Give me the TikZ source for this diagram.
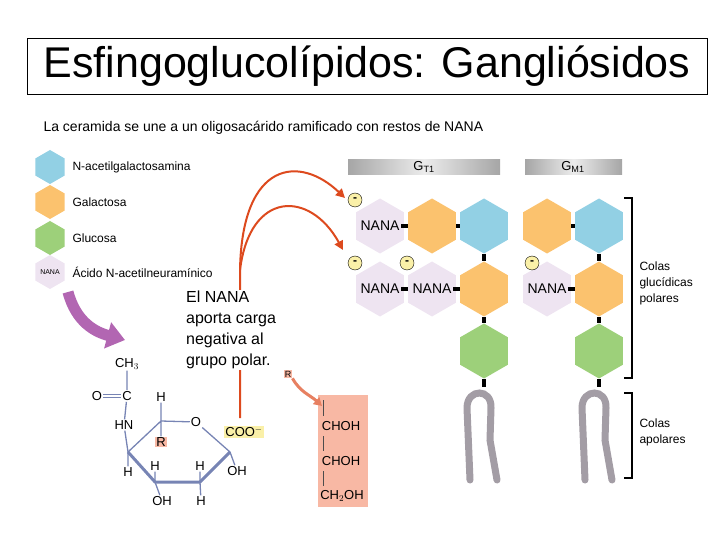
\documentclass[tikz,border=0pt]{standalone}
\usepackage{fontspec}
\setmainfont{Liberation Sans}
\usetikzlibrary{arrows.meta}
\usetikzlibrary{positioning}
\usetikzlibrary{shapes.geometric}
\definecolor{azul}{HTML}{92D0E4}
\definecolor{naranja}{HTML}{FBC26E}
\definecolor{verde}{HTML}{9DD07A}
\definecolor{lila}{HTML}{EEE4F1}
\definecolor{cola}{HTML}{A39DA5}
\definecolor{rojo}{HTML}{DD4A1E}
\definecolor{enlace}{HTML}{7784B4}
\definecolor{salmon}{HTML}{F8B8A4}
\definecolor{amarillo}{HTML}{FAF0A8}
\tikzset{
  hexa/.style = {regular polygon, regular polygon sides=6, shape border rotate=30,
    minimum size=55bp, inner sep=0pt, draw=none},
  hexl/.style = {regular polygon, regular polygon sides=6, shape border rotate=30,
    minimum size=34bp, inner sep=0pt, draw=none},
  nana/.style = {fill=lila, font=\fontsize{14bp}{14bp}\selectfont},
  carga/.style = {circle, draw, fill=amarillo, minimum size=14bp, inner sep=0pt,
    font=\fontsize{12bp}{12bp}\selectfont\bfseries},
  union/.style = {line width=4bp, black},
  colas/.style = {line width=7bp, cola, line cap=round},
  leyenda/.style = {right, font=\fontsize{12bp}{12bp}\selectfont},
  quim/.style = {font=\fontsize{13bp}{13bp}\selectfont, inner sep=1pt},
  barra/.style = {left color=gray!70, right color=gray!70, middle color=gray!15},
}
\begin{document}
\begin{tikzpicture}[x=1bp, y=-1bp]
			\useasboundingbox (0,0) rectangle (720,540);
			%\draw[help lines] (0,0) grid (720,540);
			% titulo
			\node[draw, minimum width=680bp, minimum height=56bp, font=\fontsize{43bp}{43bp}\selectfont] (titulo) at (367,66) {Esfingoglucolípidos: Gangliósidos};
			\node[right, font=\fontsize{14bp}{14bp}\selectfont] (sub) at (40,128) {La ceramida se une a un oligosacárido ramificado con restos de NANA};
			
			% leyenda
			\node[hexl, fill=azul] (l1) at (50,167) {};
			\node[hexl, fill=naranja] (l2) at (50,202) {};
			\node[hexl, fill=verde] (l3) at (50,238) {};
			\node[hexl, fill=lila] (l4) at (50,272) {};
			\node[font=\fontsize{7bp}{7bp}\selectfont] at (l4) {NANA};
			\node[leyenda] at (69,167) {N-acetilgalactosamina};
			\node[leyenda] at (69,202) {Galactosa};
			\node[leyenda] at (69,238) {Glucosa};
			\node[leyenda] at (69,272) {Ácido N-acetilneuramínico};
			
			% cabeceras
			\shade[barra] (348,160) rectangle (500,175);
			\node[font=\fontsize{13bp}{13bp}\selectfont] (gt) at (424,167) {G$_{\mathrm{T1}}$};
			\shade[barra] (525,160) rectangle (622,175);
			\node[font=\fontsize{13bp}{13bp}\selectfont] (gm) at (573,167) {G$_{\mathrm{M1}}$};
			
			% GT1
			\node[hexa, nana] (t1) at (380,226) {};
			\node[font=\fontsize{14bp}{14bp}\selectfont] at (t1) {NANA};
			\node[hexa, fill=naranja] (t2) at (432,226) {};
			\node[hexa, fill=azul] (t3) at (484,226) {};
			\node[hexa, nana] (t4) at (380,289) {};
			\node[font=\fontsize{14bp}{14bp}\selectfont] at (t4) {NANA};
			\node[hexa, nana] (t5) at (432,289) {};
			\node[font=\fontsize{14bp}{14bp}\selectfont] at (t5) {NANA};
			\node[hexa, fill=naranja] (t6) at (484,289) {};
			\node[hexa, fill=verde] (t7) at (484,351) {};
			\draw[union] ([xshift=-3bp]t1.east) -- (t2.west);
			\draw[union] (t2.east) -- (t3.west);
			\draw[union] ([xshift=-3bp]t4.east) -- (t5.west);
			\draw[union] ([xshift=-3bp]t5.east) -- (t6.west);
			\draw[union] (t3.south) -- (t6.north);
			\draw[union] (t6.south) -- (t7.north);
			\draw[union] (t7.south) -- ++(0,8);
			\draw[colas] (470,480) -- (467,408) .. controls (467,388) and (492,388) .. (491,408) -- (490,440) -- (497,480);
			\node[carga] at (355,200) {-};
			\node[carga] at (355,263) {-};
			\node[carga] at (407,263) {-};
			
			% GM1
			\node[hexa, fill=naranja] (m1) at (547,226) {};
			\node[hexa, fill=azul] (m2) at (599,226) {};
			\node[hexa, nana] (m3) at (547,289) {};
			\node[font=\fontsize{14bp}{14bp}\selectfont] at (m3) {NANA};
			\node[hexa, fill=naranja] (m4) at (599,289) {};
			\node[hexa, fill=verde] (m5) at (599,351) {};
			\draw[union] (m1.east) -- (m2.west);
			\draw[union] ([xshift=-3bp]m3.east) -- (m4.west);
			\draw[union] (m2.south) -- (m4.north);
			\draw[union] (m4.south) -- (m5.north);
			\draw[union] (m5.south) -- ++(0,8);
			\draw[colas] (585,480) -- (582,408) .. controls (582,388) and (607,388) .. (606,408) -- (605,440) -- (612,480);
			\node[carga] at (532,263) {-};
			
			% llaves
			\draw[line width=1.2bp] (624,198) -- (632,198) -- (632,378) -- (624,378);
			\draw[line width=1.2bp] (624,393) -- (632,393) -- (632,478) -- (624,478);
			\node[right, align=left, font=\fontsize{12bp}{16bp}\selectfont] at (636,283) {Colas\\glucídicas\\polares};
			\node[right, align=left, font=\fontsize{12bp}{16bp}\selectfont] at (636,432) {Colas\\apolares};
			
			% flecha morada
			\draw[line width=11bp, violet!60, -{Triangle[width=26bp,length=18bp]}] (68,292) .. controls (76,322) and (95,332) .. (125,340);
			
			% molecula
			\node[quim] (ch3) at (127,364) {CH$_3$};
			\node[quim] (c1) at (127,396) {C};
			\node[quim] (o1) at (97,396) {O};
			\node[quim] (h1) at (161,397) {H};
			\node[quim] (hn) at (124,425) {HN};
			\node[quim] (oa) at (196,422) {O};
			\node[quim, fill=amarillo] (coo) at (244,432) {COO$^{-}$};
			\node[quim, fill=salmon] (r1) at (161,442) {R};
			\node[quim] (oh1) at (237,471) {OH};
			\node[quim] (h2) at (128,472) {H};
			\node[quim] (h3) at (155,466) {H};
			\node[quim] (h4) at (200,466) {H};
			\node[quim] (oh2) at (162,501) {OH};
			\node[quim] (h5) at (201,501) {H};
			\coordinate (v1) at (161,421);
			\coordinate (v2) at (230,452);
			\coordinate (v3) at (200,482);
			\coordinate (v4) at (155,482);
			\coordinate (v5) at (128,452);
			\draw[enlace, line width=1.3bp] (ch3) -- (c1) (c1) -- (hn) (hn) -- (v5);
			\draw[enlace, line width=1.3bp, double, double distance=2bp] (o1) -- (c1);
			\draw[enlace, line width=1.3bp] (h1) -- (v1) -- (oa) -- (v2) -- (oh1);
			\draw[enlace, line width=1.3bp] (v5) -- (v1) (v1) -- (r1) (v5) -- (h2);
			\draw[enlace, line width=3bp, line join=round] (v2) -- (v3) -- (v4) -- (v5);
			\draw[enlace, line width=1.3bp] (h3) -- (v4) -- (oh2) (h4) -- (v3) -- (h5);
			
			% flechas rojas
			\coordinate (pie) at (240,418);
			\draw[rojo, line width=2bp, -{Triangle[width=9bp,length=9bp]}] (pie) -- (240,270) .. controls (242,160) and (300,155) .. (345,198);
			\draw[rojo, line width=2bp, -{Triangle[width=9bp,length=9bp]}] (240,270) .. controls (250,190) and (310,190) .. (343,250);
			
			% texto NANA
			\node[right, align=left, fill=white, inner sep=1pt, font=\fontsize{16bp}{21bp}\selectfont] (texto) at (185,330) {El NANA\\aporta carga\\negativa al\\grupo polar.};
			
			% cadena R
			\node[quim, fill=salmon, font=\fontsize{9bp}{9bp}\selectfont] (r2) at (288,374) {R};
			\fill[salmon] (318,395) rectangle (368,507);
			\node[quim] (ch1) at (341,426) {CHOH};
			\node[quim] (ch2) at (341,461) {CHOH};
			\node[quim] (ch4) at (342,496) {CH$_2$OH};
			\draw[black!70, line width=1bp] (323,400) -- (323,416) (323,436) -- (323,451) (323,471) -- (323,486);
			\draw[rojo!70, line width=3bp, -{Triangle[width=9bp,length=8bp]}] (r2.south east) .. controls (300,392) and (310,395) .. (322,406);
\end{tikzpicture}
\end{document}
